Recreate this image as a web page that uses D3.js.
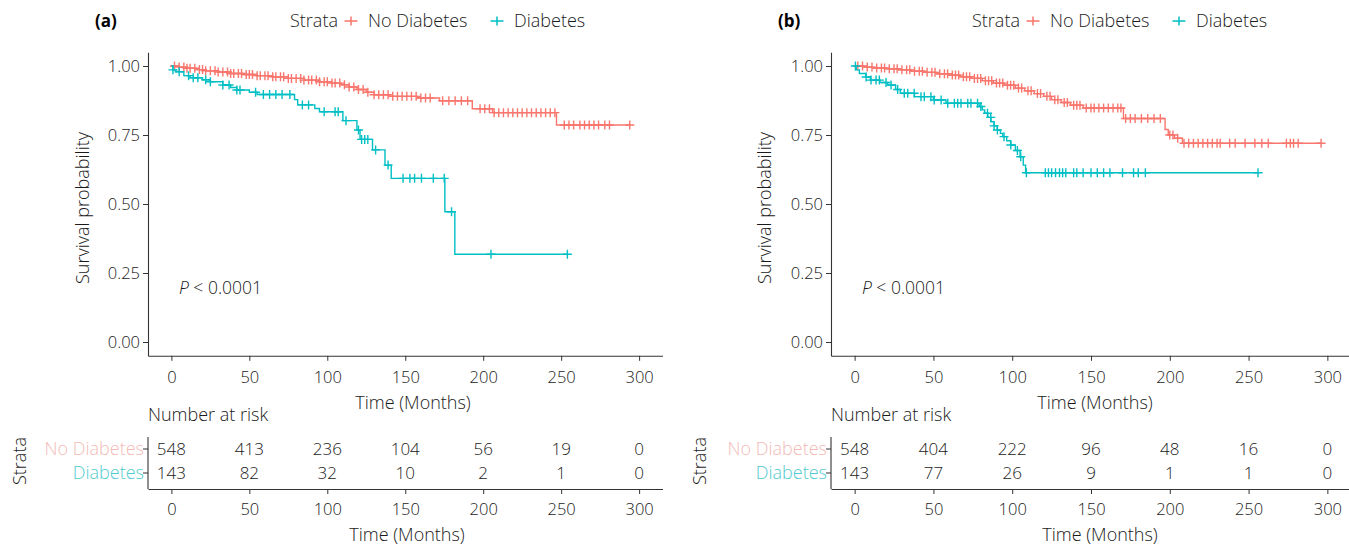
<!DOCTYPE html>
<html><head><meta charset="utf-8">
<script src="https://cdn.jsdelivr.net/npm/d3@7"></script>
<style>
body{margin:0;background:#fff}
svg text{font-family:"Open Sans",sans-serif;font-weight:300}
</style></head><body>
<svg id="c" width="1349" height="546"></svg>
<script>
// ---------------- DATA ----------------
const strata = ["No Diabetes", "Diabetes"];
const yTicks = [0, 0.25, 0.5, 0.75, 1];
const xTicks = [0, 50, 100, 150, 200, 250, 300];

// Panel (a) — No Diabetes: step times / survival, censor times, end time
const aNoT = [0,5,10,16,22,30,38,46,55,65,75,85,95,103,109,114,119,125,130,140,158,172,193,206,247];
const aNoS = [1.0,0.996,0.992,0.987,0.983,0.978,0.973,0.969,0.965,0.961,0.955,0.949,0.943,0.938,0.932,0.924,0.915,0.905,0.896,0.890,0.884,0.874,0.845,0.831,0.786];
const aNoC = [2,5,8,10,12,15,18,20,22,25,28,30,33,36,38,40,43,45,48,50,52,55,57,60,62,65,67,70,72,75,77,80,83,85,88,90,93,95,98,100,103,105,108,111,114,117,120,123,126,130,133,136,139,142,145,148,151,154,157,160,163,166,174,178,182,186,190,198,201,204,207,210,213,216,219,222,225,228,231,234,237,240,243,246,252,255,258,262,265,268,271,274,278,281,294];
const aNoEnd = 294;
// Panel (a) — Diabetes
const aDiT = [0,1,3,8,12,20,25,33,38,42,50,55,79,81,92,95,110,119,121,129,137,141,175.4,181.8];
const aDiS = [1.0,0.986,0.979,0.965,0.957,0.950,0.943,0.931,0.922,0.913,0.905,0.897,0.878,0.859,0.846,0.834,0.802,0.768,0.734,0.696,0.641,0.593,0.472,0.318];
const aDiC = [1,5,11,14,17,22,25,33,37,42,44,54,59,63,67,71,76,84,88,98,105,107,112,120,122,124,126,131,139,148.6,153,156,160.4,168,175,179.7,205,254];
const aDiEnd = 254;
const aRiskNo = [548,413,236,104,56,19,0];
const aRiskDi = [143,82,32,10,2,1,0];

// Panel (b) — No Diabetes
const bNoT = [0,6,12,20,28,36,44,52,60,67,74,81,88,95,102,108,114,120,125,131,137,145,170.6,197,199,203,208];
const bNoS = [1.0,0.996,0.993,0.990,0.986,0.981,0.977,0.972,0.967,0.961,0.955,0.947,0.938,0.930,0.920,0.910,0.900,0.890,0.878,0.868,0.858,0.848,0.810,0.770,0.750,0.738,0.720];
const bNoC = [2,5,8,11,14,17,19,22,25,27,30,33,35,38,41,43,46,49,51,54,57,59,62,64,66,69,71,73,76,78,80,83,85,87,90,92,94,97,99,101,104,106,110,112,116,118,122,124,127,129,133,135,139,141,143,147,150,152,155,158,161,164,167,169,172,175,178,182,186,190,194,200,202,205,209,212,215,218,221,224,227,230,232,238,241.5,247.8,254,258.4,262.5,274,276.5,278.5,281.5,296];
const bNoEnd = 296;
// Panel (b) — Diabetes
const bDiT = [0,1,3,7,10,16,21,26,29,38,50,58,79,81,82.5,84.5,86.5,88.5,90.5,92.5,94,96.5,99,102,105,107,108.5];
const bDiS = [1.0,0.986,0.973,0.960,0.949,0.940,0.931,0.915,0.901,0.889,0.877,0.865,0.853,0.841,0.829,0.814,0.798,0.783,0.768,0.756,0.744,0.729,0.714,0.694,0.671,0.641,0.613];
const bDiC = [0.5,7.3,10.4,13.6,15.7,19.9,23.1,27.3,31.5,33.7,37.8,42.1,44.2,48.4,50.5,54.9,59.1,63.3,65.4,67.5,71.8,73.8,78,80.1,84.3,86.4,88.5,90.6,94.8,99.1,103.3,105.4,109,121,123,125,127.5,130,132,134,139,141,145,150,154,158,162,170,177,180,184.5,256];
const bDiEnd = 256;
const bRiskNo = [548,404,222,96,48,16,0];
const bRiskDi = [143,77,26,9,1,1,0];

// ---------------- STYLE / LAYOUT ----------------
const colors = ["#F8766D", "#00BFC4"];
const tableColors = ["#F2BBB6", "#52CBCF"];
const ink = "#1a1a1a";
const axisCol = "#333";
const FW = 18;   // word text size
const FN = 16.5; // numeric text size

const panels = [
  {tag:"(a)", tagX:95, legendX:290, left:148, right:662.5, yTitleX:83, titleTop:413, titleBot:407, strataX:20, pX:179,
   curves:[{t:aNoT,s:aNoS,c:aNoC,end:aNoEnd},{t:aDiT,s:aDiS,c:aDiC,end:aDiEnd}], risk:[aRiskNo,aRiskDi]},
  {tag:"(b)", tagX:778, legendX:972, left:831, right:1351, yTitleX:765, titleTop:1095, titleBot:1100, strataX:700, pX:862,
   curves:[{t:bNoT,s:bNoS,c:bNoC,end:bNoEnd},{t:bDiT,s:bDiS,c:bDiC,end:bDiEnd}], risk:[bRiskNo,bRiskDi]}
];

const svg = d3.select("#c");
const y = d3.scaleLinear().domain([-0.05, 1.05]).range([355.8, 52.2]);
const plus = "M-4.5,0H4.5M0,-4.5V4.5";

function survAt(tArr, sArr, t) {
  let i = d3.bisectRight(tArr, t) - 1;
  if (i < 0) i = 0;
  return sArr[i];
}

panels.forEach(p => {
  const g = svg.append("g");
  const x = d3.scaleLinear().domain([-15, 315]).range([p.left, p.right]);

  // panel tag
  g.append("text").attr("x", p.tagX).attr("y", 27).attr("font-size", 17)
    .attr("fill", "#000").style("font-weight", 700).text(p.tag);

  // legend
  const lg = g.append("g").attr("transform", `translate(${p.legendX},0)`);
  lg.append("text").attr("x", 0).attr("y", 27).attr("font-size", FW).attr("fill", ink).text("Strata");
  const legItems = [{dx:61, tx:78}, {dx:207, tx:224}];
  strata.forEach((s, i) => {
    const it = lg.append("g").attr("transform", `translate(${legItems[i].dx},21)`);
    it.append("path").attr("d", "M-6.5,0H6.5M0,-4.5V4.5").attr("stroke", colors[i]).attr("stroke-width", 1.5).attr("fill", "none");
    lg.append("text").attr("x", legItems[i].tx).attr("y", 27).attr("font-size", FW).attr("fill", ink).text(s);
  });

  // axes
  const ya = g.append("g").attr("transform", `translate(${p.left},0)`)
    .call(d3.axisLeft(y).tickValues(yTicks).tickFormat(d3.format(".2f")).tickSize(5).tickSizeOuter(0).tickPadding(3));
  const xa = g.append("g").attr("transform", `translate(0,${y(-0.05)})`)
    .call(d3.axisBottom(x).tickValues(xTicks).tickSize(5).tickSizeOuter(0).tickPadding(10));
  [ya, xa].forEach(a => {
    a.selectAll("path.domain").attr("stroke", axisCol).attr("stroke-width", 1.1);
    a.selectAll(".tick line").attr("stroke", axisCol);
    a.selectAll(".tick text").attr("font-size", FN).attr("fill", ink).style("font-family", "'Open Sans',sans-serif").style("font-weight", 300);
  });

  g.append("text").attr("transform", `translate(${p.yTitleX},208) rotate(-90)`).attr("text-anchor", "middle")
    .attr("dy", "0.35em").attr("font-size", FW).attr("fill", ink).text("Survival probability");
  g.append("text").attr("x", p.titleTop).attr("y", 409).attr("text-anchor", "middle")
    .attr("font-size", FW).attr("fill", ink).text("Time (Months)");

  // curves
  const line = d3.line().curve(d3.curveStepAfter).x(d => x(d[0])).y(d => y(d[1]));
  p.curves.forEach((cv, i) => {
    const pts = cv.t.map((t, k) => [t, cv.s[k]]);
    pts.push([cv.end, cv.s[cv.s.length - 1]]);
    g.append("path").datum(pts).attr("d", line).attr("fill", "none")
      .attr("stroke", colors[i]).attr("stroke-width", 1.4);
    g.append("g").selectAll("path").data(cv.c).join("path")
      .attr("transform", t => `translate(${x(t)},${y(survAt(cv.t, cv.s, t))})`)
      .attr("d", plus).attr("stroke", colors[i]).attr("stroke-width", 1.4).attr("fill", "none");
  });

  // p-value
  const pt = g.append("text").attr("x", p.pX).attr("y", 294).attr("font-size", 17.5).attr("fill", ink);
  pt.append("tspan").attr("font-style", "italic").text("P");
  pt.append("tspan").text(" < 0.0001");

  // risk table
  const rowY = [449, 473];
  g.append("text").attr("x", p.left).attr("y", 421).attr("font-size", FW).attr("fill", ink).text("Number at risk");
  g.append("line").attr("x1", p.left).attr("x2", p.left).attr("y1", 437).attr("y2", 489).attr("stroke", axisCol).attr("stroke-width", 1.1);
  const tx = d3.scaleLinear().domain([-15, 315]).range([p.left, p.right]);
  const ta = g.append("g").attr("transform", "translate(0,489)")
    .call(d3.axisBottom(tx).tickValues(xTicks).tickSize(5).tickSizeOuter(0).tickPadding(9));
  ta.selectAll("path.domain").attr("stroke", axisCol).attr("stroke-width", 1.1);
  ta.selectAll(".tick line").attr("stroke", axisCol);
  ta.selectAll(".tick text").attr("font-size", FN).attr("fill", ink).style("font-family", "'Open Sans',sans-serif").style("font-weight", 300);
  strata.forEach((s, i) => {
    g.append("line").attr("x1", p.left - 5).attr("x2", p.left).attr("y1", rowY[i]).attr("y2", rowY[i]).attr("stroke", axisCol);
    g.append("text").attr("x", p.left - 4).attr("y", rowY[i]).attr("dy", "0.35em").attr("text-anchor", "end")
      .attr("font-size", FW).attr("fill", tableColors[i]).text(s);
    g.append("g").selectAll("text").data(p.risk[i]).join("text")
      .attr("x", (d, k) => tx(xTicks[k])).attr("y", rowY[i]).attr("dy", "0.35em").attr("text-anchor", "middle")
      .attr("font-size", FN + 0.5).attr("fill", ink).text(d => d);
  });
  g.append("text").attr("transform", `translate(${p.strataX},461) rotate(-90)`).attr("text-anchor", "middle")
    .attr("dy", "0.35em").attr("font-size", FW).attr("fill", ink).text("Strata");
  g.append("text").attr("x", p.titleBot).attr("y", 541).attr("text-anchor", "middle")
    .attr("font-size", FW).attr("fill", ink).text("Time (Months)");
});
</script>
</body></html>
